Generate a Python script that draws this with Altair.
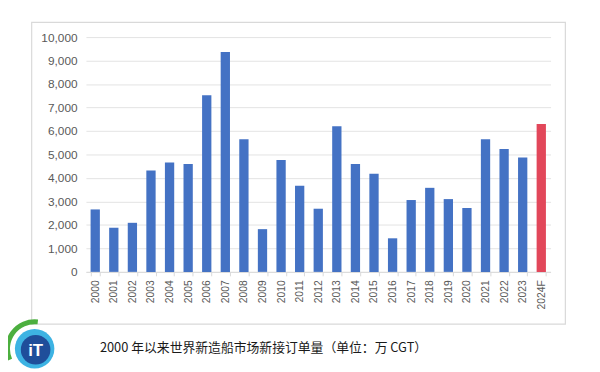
import altair as alt
import pandas as pd

years = ["2000", "2001", "2002", "2003", "2004", "2005", "2006", "2007", "2008", "2009",
         "2010", "2011", "2012", "2013", "2014", "2015", "2016", "2017", "2018", "2019",
         "2020", "2021", "2022", "2023", "2024F"]
orders = [2660, 1880, 2090, 4320, 4660, 4600, 7520, 9370, 5650, 1820,
          4770, 3670, 2690, 6200, 4600, 4180, 1430, 3060, 3580, 3100,
          2720, 5650, 5230, 4870, 6300]
kind = ["实际"] * 24 + ["预测"]
caption = "2000 年以来世界新造船市场新接订单量（单位：万 CGT）"

df = pd.DataFrame({"year": years, "value": orders, "kind": kind})

W, H = 471, 238

frame = alt.Chart(pd.DataFrame({"a": [0]})).mark_rect(
    filled=False, stroke="#d9d9d9", strokeWidth=1.2
).encode(
    x=alt.value(-55), x2=alt.value(486), y=alt.value(-15), y2=alt.value(291)
)

bars = alt.Chart(df).mark_bar().encode(
    x=alt.X("year:N", sort=years, title=None,
            scale=alt.Scale(paddingInner=0.5, paddingOuter=0.25),
            axis=alt.Axis(labelAngle=-90, labelFontSize=10.5, labelColor="#595959",
                          labelFont="Liberation Sans", tickBand="extent", tickSize=4,
                          tickColor="#d9d9d9", domainColor="#d9d9d9", labelPadding=4)),
    y=alt.Y("value:Q", title=None,
            scale=alt.Scale(domain=[0, 10000]),
            axis=alt.Axis(values=list(range(0, 10001, 1000)),
                          labelExpr="format(datum.value, ',d')",
                          labelFontSize=12, labelColor="#595959",
                          labelFont="Liberation Sans", domain=False, ticks=False,
                          gridColor="#e3e3e3", labelPadding=9)),
    color=alt.Color("kind:N", scale=alt.Scale(domain=["实际", "预测"],
                                              range=["#4472C4", "#E2475A"]),
                    legend=None),
)

cap = alt.Chart(pd.DataFrame({"t": [caption]})).mark_text(
    fontSize=13, font="Noto Sans CJK SC", color="#1a1a1a", align="center", baseline="middle"
).encode(
    text="t:N", x=alt.value(180), y=alt.value(315)
)

logo_df = pd.DataFrame({"a": [0]})
green = alt.Chart(logo_df).mark_arc(radius=30, radius2=25, theta=4.3, theta2=6.4,
                                    color="#4CAF3F").encode(
    x=alt.value(-52), y=alt.value(316))
ring = alt.Chart(logo_df).mark_arc(radius=20, radius2=0, theta=0, theta2=6.2832,
                                   color="#3DB3E3").encode(
    x=alt.value(-52), y=alt.value(316))
core = alt.Chart(logo_df).mark_arc(radius=15, radius2=0, theta=0, theta2=6.2832,
                                   color="#1F4E9A").encode(
    x=alt.value(-51), y=alt.value(317))
it = alt.Chart(pd.DataFrame({"t": ["iT"]})).mark_text(
    fontSize=17, font="Liberation Sans", fontWeight="bold", color="white",
    align="center", baseline="middle"
).encode(text="t:N", x=alt.value(-51), y=alt.value(318))

chart = alt.layer(frame, bars, cap, green, ring, core, it).properties(
    width=W, height=H,
    autosize=alt.AutoSizeParams(type="none"),
    padding={"left": 79, "top": 27, "right": 42, "bottom": 99},
).configure_view(stroke=None)

chart.save("out.html", embed_options={"renderer": "svg", "actions": False})
